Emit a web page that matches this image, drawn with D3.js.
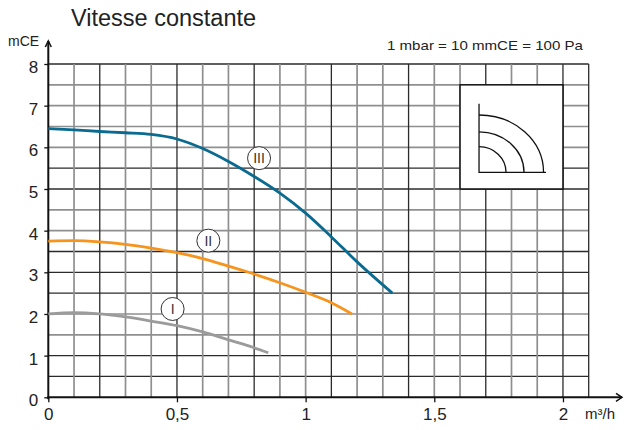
<!DOCTYPE html>
<html><head><meta charset="utf-8">
<script src="https://cdn.jsdelivr.net/npm/d3@7"></script>
<style>
body{margin:0;background:#fff;}
svg{display:block;font-family:"Liberation Sans",Arial,sans-serif;}
</style></head>
<body><svg id="c" width="625" height="430"></svg>
<script>
// ---- data ----
const title = "Vitesse constante";
const yUnit = "mCE";
const xUnit = "m³/h";
const note = "1 mbar = 10 mmCE = 100 Pa";
const xTicks = [0, 0.5, 1, 1.5, 2];
const xTickLabels = ["0", "0,5", "1", "1,5", "2"];
const yTicks = [0, 1, 2, 3, 4, 5, 6, 7, 8];
const seriesNames = ["I", "II", "III"];
const flowI   = [0, 0.1, 0.2, 0.3, 0.4, 0.5, 0.6, 0.7, 0.8, 0.855];
const headI   = [2.0, 2.03, 2.0, 1.93, 1.83, 1.72, 1.57, 1.38, 1.19, 1.07];
const flowII  = [0, 0.1, 0.2, 0.3, 0.4, 0.5, 0.6, 0.7, 0.8, 0.9, 1.0, 1.1, 1.18];
const headII  = [3.75, 3.76, 3.73, 3.67, 3.58, 3.47, 3.33, 3.15, 2.96, 2.75, 2.52, 2.27, 2.0];
const flowIII = [0, 0.1, 0.2, 0.3, 0.4, 0.5, 0.6, 0.7, 0.8, 0.9, 1.0, 1.1, 1.2, 1.337];
const headIII = [6.45, 6.42, 6.38, 6.35, 6.31, 6.2, 5.97, 5.66, 5.3, 4.9, 4.42, 3.85, 3.25, 2.5];
const labelPos = [[0.483, 2.12], [0.622, 3.76], [0.819, 5.74]];

// ---- layout ----
const svg = d3.select("#c");
const x = d3.scaleLinear().domain([0, 2.1]).range([48.3, 588.7]);
const y = d3.scaleLinear().domain([0, 8]).range([397.3, 64]);
const colors = ["#9b9b9b", "#f7941d", "#0a6a8f"];
const dark = "#2b2b2b", grey = "#8f8f8f";

// grid
const xGrid = d3.range(1, 22).map(i => i / 10);
const yGrid = d3.range(1, 17).map(i => i / 2);
const darkY = [0.5, 1, 2.5, 3, 3.5, 5, 5.5, 8];
const g = svg.append("g");
g.selectAll("line.h").data(yGrid).join("line")
  .attr("x1", x(0)).attr("x2", x(2.1))
  .attr("y1", d => y(d)).attr("y2", d => y(d))
  .attr("stroke", d => darkY.includes(d) ? dark : grey)
  .attr("stroke-width", d => darkY.includes(d) ? 1.3 : 1.7);
g.selectAll("line.v").data(xGrid).join("line")
  .attr("x1", d => x(d)).attr("x2", d => x(d))
  .attr("y1", y(0)).attr("y2", y(8))
  .attr("stroke", (d, i) => ((i + 1) % 3 === 2 || i === 20) ? dark : grey)
  .attr("stroke-width", (d, i) => ((i + 1) % 3 === 2 || i === 20) ? 1.3 : 1.7);

// axes
const xAxis = d3.axisBottom(x).tickValues(xTicks)
  .tickFormat((d, i) => xTickLabels[i]).tickSize(5).tickPadding(6);
const gx = svg.append("g").attr("transform", `translate(0,${y(0)})`).call(xAxis);
gx.select(".domain").remove();
gx.selectAll(".tick line").attr("stroke", "#111").attr("stroke-width", 1.3);
gx.selectAll("text").attr("font-size", 17).attr("fill", "#222")
  .attr("font-family", "Liberation Sans, Arial, sans-serif");

const yAxis = d3.axisLeft(y).tickValues(yTicks).tickSize(4).tickPadding(6);
const gy = svg.append("g").attr("transform", `translate(${x(0)},0)`).call(yAxis);
gy.select(".domain").remove();
gy.selectAll(".tick line").attr("stroke", "#111").attr("stroke-width", 1.3);
gy.selectAll("text").attr("font-size", 17).attr("fill", "#222").attr("dy", "0.5em")
  .attr("font-family", "Liberation Sans, Arial, sans-serif");

// axis lines with arrows
svg.append("line").attr("x1", x(0)).attr("x2", x(0)).attr("y1", y(0) + 2).attr("y2", 41)
  .attr("stroke", "#111").attr("stroke-width", 2);
svg.append("path").attr("d", `M${x(0) - 3},${47} L${x(0)},${41} L${x(0) + 3},${47}`)
  .attr("fill", "none").attr("stroke", "#111").attr("stroke-width", 1.5);
svg.append("line").attr("x1", x(0) - 1).attr("x2", 622).attr("y1", y(0)).attr("y2", y(0))
  .attr("stroke", "#111").attr("stroke-width", 2);
svg.append("path").attr("d", `M${616},${y(0) - 4} L${622},${y(0)} L${616},${y(0) + 4}`)
  .attr("fill", "none").attr("stroke", "#111").attr("stroke-width", 1.5);

// inset box with icon
const bx0 = x(1.6), bx1 = x(2.0), by0 = y(7.5), by1 = y(5.0);
svg.append("rect").attr("x", bx0).attr("y", by0).attr("width", bx1 - bx0).attr("height", by1 - by0)
  .attr("fill", "#fff").attr("stroke", "#111").attr("stroke-width", 1.5);
const ox = bx0 + 19, oy = by1 - 16.7;
const icon = svg.append("g").attr("fill", "none").attr("stroke", "#111").attr("stroke-width", 1.3);
icon.append("path").attr("d", `M${ox},${by0 + 19} L${ox},${oy} L${ox + 67},${oy}`);
[[64.5, 57.3], [45, 40.5], [27, 25.6]].forEach(([rx, ry]) => {
  icon.append("path").attr("d", `M${ox},${oy - ry} A${rx},${ry} 0 0 1 ${ox + rx},${oy}`);
});

// curves
const line = d3.line().x(d => x(d[0])).y(d => y(d[1])).curve(d3.curveMonotoneX);
const series = [
  d3.zip(flowI, headI),
  d3.zip(flowII, headII),
  d3.zip(flowIII, headIII)
];
svg.selectAll("path.curve").data(series).join("path")
  .attr("class", "curve").attr("d", line).attr("fill", "none")
  .attr("stroke", (d, i) => colors[i]).attr("stroke-width", 2.8);

// curve labels
const lg = svg.selectAll("g.lbl").data(seriesNames).join("g")
  .attr("transform", (d, i) => `translate(${x(labelPos[i][0])},${y(labelPos[i][1])})`);
lg.append("circle").attr("r", 11.5).attr("fill", "#fff").attr("stroke", "#333").attr("stroke-width", 1);
lg.append("text").text(d => d).attr("text-anchor", "middle").attr("dy", "0.36em")
  .attr("font-size", 14).attr("fill", "#333");

// texts
svg.append("text").attr("x", 71).attr("y", 26).text(title)
  .attr("font-size", 23.5).attr("fill", "#222");
svg.append("text").attr("x", 8).attr("y", 46).text(yUnit)
  .attr("font-size", 14).attr("fill", "#222");
svg.append("text").attr("x", 387).attr("y", 50).text(note)
  .attr("font-size", 13.5).attr("fill", "#222")
  .attr("textLength", 196).attr("lengthAdjust", "spacingAndGlyphs");
svg.append("text").attr("x", 585).attr("y", 419).text(xUnit)
  .attr("font-size", 15).attr("fill", "#222");
</script></body></html>
